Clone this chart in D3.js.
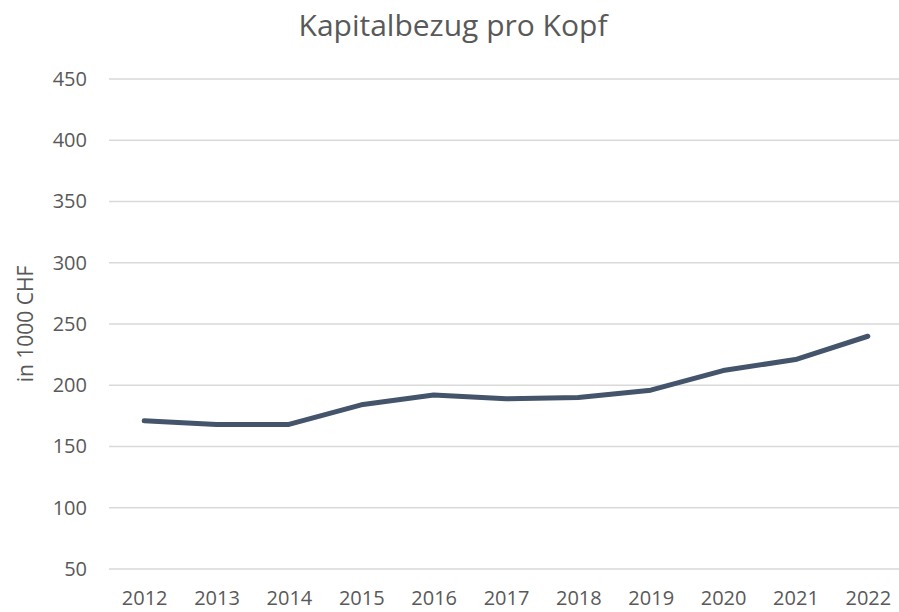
<!DOCTYPE html>
<html>
<head>
<meta charset="utf-8">
<script src="https://cdn.jsdelivr.net/npm/d3@7"></script>
<style>
  body { margin: 0; background: #fff; }
  text { font-family: "Open Sans", "Noto Sans", sans-serif; fill: #595959; }
</style>
</head>
<body>
<div id="chart"></div>
<script>
// data
var years  = ["2012", "2013", "2014", "2015", "2016", "2017", "2018", "2019", "2020", "2021", "2022"];
var values = [171, 168, 168, 184, 192, 189, 190, 196, 212, 221, 240];
var yTicks = [50, 100, 150, 200, 250, 300, 350, 400, 450];

var width = 899, height = 612;
var line_color = "#44546A";
var grid_color = "#d9d9d9";

var svg = d3.select("#chart").append("svg")
            .attr("width", width)
            .attr("height", height);

var x = d3.scalePoint()
          .domain(years)
          .range([108, 904])
          .padding(0.5);

var y = d3.scaleLinear()
          .domain([50, 450])
          .range([569, 79]);

// gridlines
svg.append("g")
   .selectAll("line")
   .data(yTicks)
   .enter().append("line")
   .attr("x1", 109)
   .attr("x2", width)
   .attr("y1", function(d) { return y(d); })
   .attr("y2", function(d) { return y(d); })
   .attr("stroke", grid_color)
   .attr("stroke-width", 1.3);

// y axis labels
var yAxis = d3.axisLeft(y).tickValues(yTicks).tickSize(0).tickPadding(0);
var gy = svg.append("g").attr("transform", "translate(87,0)").call(yAxis);
gy.select(".domain").remove();
gy.selectAll("text")
  .style("font-size", "20px")
  .style("font-family", "'Open Sans', 'Noto Sans', sans-serif")
  .attr("fill", "#595959");

// x axis labels
var xAxis = d3.axisBottom(x).tickSize(0).tickPadding(0);
var gx = svg.append("g").attr("transform", "translate(0,591)").call(xAxis);
gx.select(".domain").remove();
gx.selectAll("text")
  .style("font-size", "20px")
  .style("font-family", "'Open Sans', 'Noto Sans', sans-serif")
  .attr("fill", "#595959");

// the line
var line = d3.line()
             .x(function(d, i) { return x(years[i]); })
             .y(function(d) { return y(d); });

svg.append("path")
   .datum(values)
   .attr("d", line)
   .attr("fill", "none")
   .attr("stroke", line_color)
   .attr("stroke-width", 5)
   .attr("stroke-linecap", "round")
   .attr("stroke-linejoin", "round");

// title
svg.append("text")
   .attr("x", 453)
   .attr("y", 36)
   .attr("text-anchor", "middle")
   .style("font-size", "30px")
   .text("Kapitalbezug pro Kopf");

// y axis title
svg.append("text")
   .attr("transform", "translate(33,324) rotate(-90)")
   .attr("text-anchor", "middle")
   .style("font-size", "21px")
   .text("in 1000 CHF");
</script>
</body>
</html>
